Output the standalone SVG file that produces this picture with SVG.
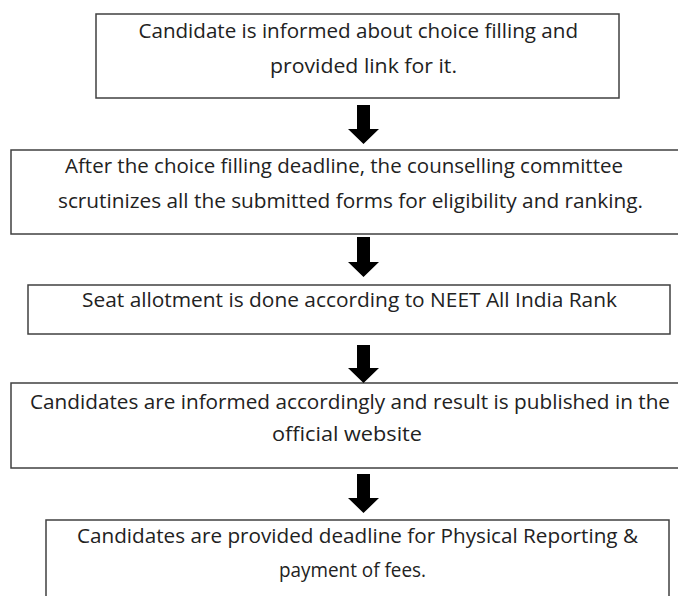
<svg xmlns="http://www.w3.org/2000/svg" width="678" height="596" viewBox="0 0 678 596">
<style>
.box{fill:#fff;stroke:#404040;stroke-width:1.5}
.t{font-family:"Open Sans","Liberation Sans",sans-serif;font-size:20px;fill:#222}
.arr{fill:#000}
</style>
<rect width="678" height="596" fill="#fff"/>
<g id="n1">
<rect class="box" x="96" y="14" width="523" height="84"/>
<text class="t" x="138.5" y="38" textLength="439.5" lengthAdjust="spacingAndGlyphs">Candidate is informed about choice filling and</text>
<text class="t" x="270" y="73" textLength="187" lengthAdjust="spacingAndGlyphs">provided link for it.</text>
</g>
<g id="n2">
<rect class="box" x="11" y="150" width="690" height="84"/>
<text class="t" x="65" y="173" textLength="558" lengthAdjust="spacingAndGlyphs">After the choice filling deadline, the counselling committee</text>
<text class="t" x="58" y="208" textLength="585" lengthAdjust="spacingAndGlyphs">scrutinizes all the submitted forms for eligibility and ranking.</text>
</g>
<g id="n3">
<rect class="box" x="28" y="285" width="642" height="49"/>
<text class="t" x="82" y="307" textLength="535" lengthAdjust="spacingAndGlyphs">Seat allotment is done according to NEET All India Rank</text>
</g>
<g id="n4">
<rect class="box" x="11" y="383" width="690" height="85"/>
<text class="t" x="30" y="409" textLength="640" lengthAdjust="spacingAndGlyphs">Candidates are informed accordingly and result is published in the</text>
<text class="t" x="272" y="441" textLength="150" lengthAdjust="spacingAndGlyphs">official website</text>
</g>
<g id="n5">
<rect class="box" x="46" y="520" width="623" height="90"/>
<text class="t" x="77" y="543" textLength="561" lengthAdjust="spacingAndGlyphs">Candidates are provided deadline for Physical Reporting &amp;</text>
<text class="t" x="279" y="577" textLength="147" lengthAdjust="spacingAndGlyphs">payment of fees.</text>
</g>
<g id="connectors">
<polygon class="arr" points="357,105 370,105 370,129 379,129 363.5,144 348,129 357,129"/>
<polygon class="arr" points="357,237 370,237 370,262 379,262 363.5,277 348,262 357,262"/>
<polygon class="arr" points="357,345 370,345 370,368 379,368 363.5,383 348,368 357,368"/>
<polygon class="arr" points="357,474 370,474 370,498 379,498 363.5,513 348,498 357,498"/>
</g>
</svg>
